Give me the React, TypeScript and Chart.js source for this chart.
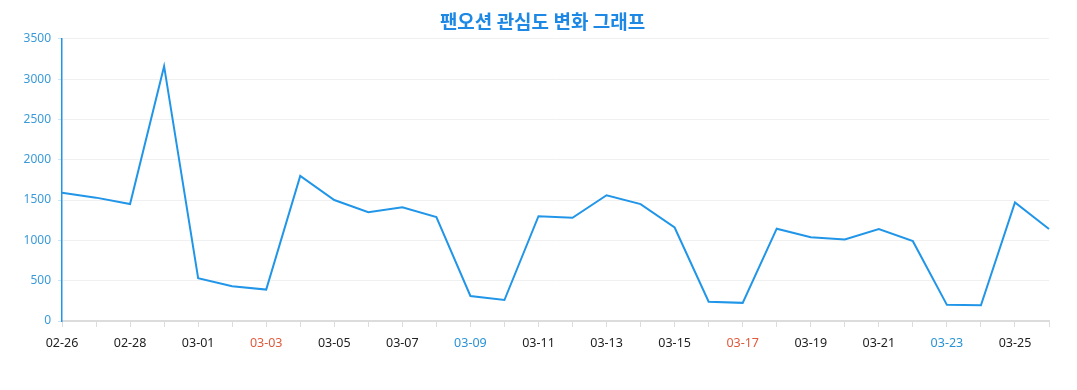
import React, { useEffect, useRef } from "react";
import { Chart, registerables } from "chart.js";

Chart.register(...registerables);

const dates: string[] = [
  "02-26", "02-27", "02-28", "02-29", "03-01", "03-02", "03-03", "03-04", "03-05", "03-06",
  "03-07", "03-08", "03-09", "03-10", "03-11", "03-12", "03-13", "03-14", "03-15", "03-16",
  "03-17", "03-18", "03-19", "03-20", "03-21", "03-22", "03-23", "03-24", "03-25", "03-26",
];
const interest: number[] = [
  1590, 1530, 1450, 3160, 530, 430, 390, 1800, 1500, 1350,
  1410, 1290, 310, 260, 1300, 1280, 1560, 1450, 1160, 240,
  225, 1145, 1040, 1010, 1140, 990, 200, 195, 1470, 1140,
];
// day of week: 0=Sun, 6=Sat (2024-02-26 is Monday)
const startDow = 1;
const yTicks: number[] = [0, 500, 1000, 1500, 2000, 2500, 3000, 3500];

const FONT = "'Noto Sans', 'Open Sans', sans-serif";

export default function App() {
  const ref = useRef<HTMLCanvasElement | null>(null);
  useEffect(() => {
    if (!ref.current) return;
    const chart = new Chart(ref.current, {
      type: "line",
      data: {
        labels: dates,
        datasets: [
          {
            label: "관심도",
            data: interest,
            borderColor: "#2196e8",
            backgroundColor: "#2196e8",
            borderWidth: 2,
            pointRadius: 0,
            tension: 0,
          },
        ],
      },
      options: {
        animation: false,
        responsive: false,
        maintainAspectRatio: false,
        layout: { padding: { left: 8, right: 0, top: 6, bottom: 30 } },
        plugins: {
          legend: { display: false },
          tooltip: { enabled: false },
          title: {
            display: true,
            text: "팬오션 관심도 변화 그래프",
            color: "#1e88e5",
            font: { family: "'Noto Sans CJK KR', sans-serif", size: 19, weight: "bold" },
            padding: { top: 4, bottom: 6 },
          },
        },
        scales: {
          x: {
            offset: false,
            afterFit: (axis: any) => {
              axis.paddingRight = 28;
            },
            grid: {
              display: true,
              drawOnChartArea: false,
              drawTicks: true,
              tickLength: 6,
              color: "#dcdcdc",
            },
            border: { display: true, color: "#dcdcdc", width: 2 },
            ticks: {
              autoSkip: false,
              maxRotation: 0,
              padding: 9,
              font: { family: FONT, size: 12.5 },
              color: (ctx: any) => {
                const dow = (startDow + ctx.index) % 7;
                if (dow === 0) return "#e05a3c";
                if (dow === 6) return "#2a93d5";
                return "#222222";
              },
              callback: (_v: any, i: number) => (i % 2 === 0 ? dates[i] : ""),
            },
          },
          y: {
            min: 0,
            max: 3500,
            afterBuildTicks: (axis: any) => {
              axis.ticks = yTicks.map((v) => ({ value: v }));
            },
            afterFit: (axis: any) => {
              axis.width = 54;
            },
            grid: { color: "#f0f0f0", tickLength: 4, tickColor: "#cfe3f3" },
            border: { display: true, color: "#2196e8", width: 1.5 },
            ticks: {
              padding: 7,
              font: { family: FONT, size: 12 },
              color: "#3a9ad9",
              callback: (v: any) => String(v),
            },
          },
        },
      },
    });
    return () => chart.destroy();
  }, []);
  return (
    <div style={{ position: "fixed", left: 0, top: 0, width: 1077, height: 390, background: "#fff" }}>
      <canvas ref={ref} width={1077} height={390} style={{ width: 1077, height: 390 }} />
    </div>
  );
}
